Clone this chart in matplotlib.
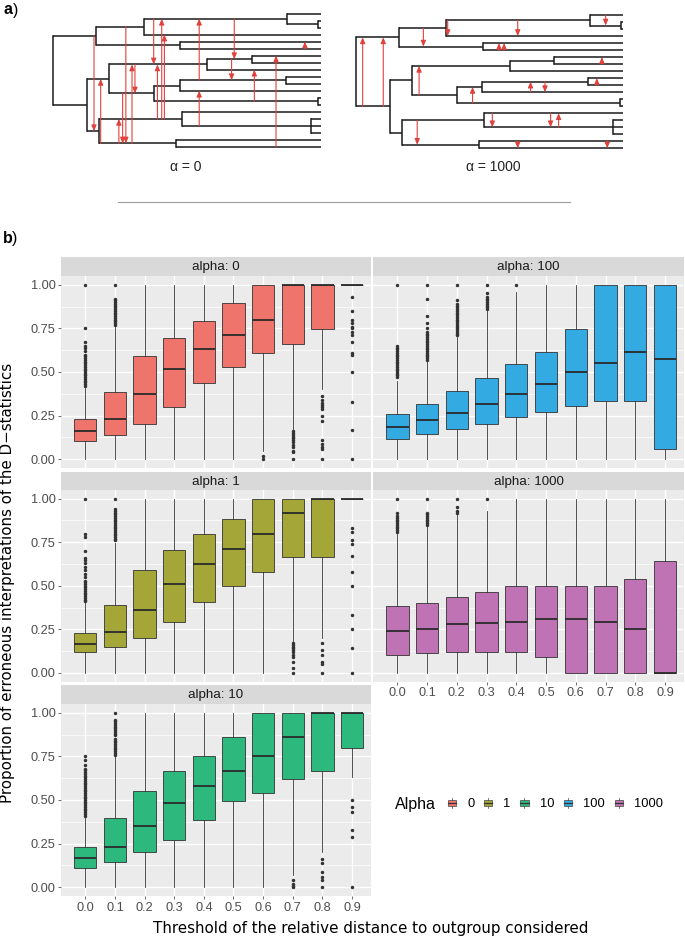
import numpy as np
import matplotlib.pyplot as plt
from matplotlib.patches import Rectangle, Patch
from matplotlib.lines import Line2D
from matplotlib.legend_handler import HandlerBase

# ---------------- data ----------------
thresholds = ['0.0', '0.1', '0.2', '0.3', '0.4', '0.5', '0.6', '0.7', '0.8', '0.9']
alpha_labels = ['0', '1', '10', '100', '1000']
alpha_colors = ['#EF746B', '#A4A638', '#2DB87D', '#33ABE2', '#BF73B5']

# alpha = 0
a0_q1 = [0.107, 0.139, 0.200, 0.297, 0.436, 0.531, 0.606, 0.663, 0.749, 1.0]
a0_med = [0.164, 0.229, 0.373, 0.520, 0.630, 0.714, 0.800, 1.0, 1.0, 1.0]
a0_q3 = [0.230, 0.387, 0.589, 0.697, 0.794, 0.897, 1.0, 1.0, 1.0, 1.0]
a0_lo = [0, 0, 0, 0, 0, 0, 0.05, 0.17, 0.40, 1.0]
a0_hi = [0.41, 0.76, 1, 1, 1, 1, 1, 1, 1, 1]
a0_out = {
    0: [0.42, 0.43, 0.44, 0.45, 0.46, 0.47, 0.48, 0.49, 0.50, 0.51, 0.52, 0.53, 0.54,
        0.55, 0.56, 0.57, 0.58, 0.59, 0.60, 0.62, 0.64, 0.65, 0.67, 0.75, 1.0],
    1: [0.77, 0.78, 0.79, 0.80, 0.81, 0.82, 0.83, 0.84, 0.85, 0.86, 0.87, 0.88, 0.89,
        0.90, 0.91, 0.92, 1.0],
    6: [0.02, 0.0],
    7: [0.16, 0.15, 0.14, 0.13, 0.12, 0.11, 0.10, 0.08, 0.07, 0.05, 0.04, 0.0],
    8: [0.36, 0.34, 0.32, 0.31, 0.30, 0.29, 0.25, 0.22, 0.11, 0.09, 0.07, 0.06, 0.0],
    9: [0.93, 0.85, 0.80, 0.78, 0.76, 0.75, 0.73, 0.71, 0.67, 0.61, 0.60, 0.50, 0.33, 0.17, 0.0],
}

# alpha = 1
a1_q1 = [0.117, 0.149, 0.199, 0.291, 0.405, 0.501, 0.579, 0.667, 0.667, 1.0]
a1_med = [0.168, 0.235, 0.363, 0.511, 0.625, 0.711, 0.795, 0.918, 1.0, 1.0]
a1_q3 = [0.231, 0.392, 0.589, 0.706, 0.797, 0.885, 1.0, 1.0, 1.0, 1.0]
a1_lo = [0, 0, 0, 0, 0, 0, 0, 0.175, 0.20, 1.0]
a1_hi = [0.40, 0.745, 1, 1, 1, 1, 1, 1, 1, 1]
a1_out = {
    0: [0.41, 0.42, 0.43, 0.44, 0.45, 0.46, 0.47, 0.48, 0.49, 0.50, 0.51, 0.52, 0.53,
        0.55, 0.57, 0.59, 0.61, 0.63, 0.65, 0.66, 0.70, 0.78, 0.80, 1.0],
    1: [0.76, 0.77, 0.78, 0.79, 0.80, 0.81, 0.82, 0.83, 0.84, 0.85, 0.86, 0.87, 0.88,
        0.89, 0.90, 0.91, 0.92, 0.93, 0.94, 1.0],
    7: [0.17, 0.16, 0.15, 0.14, 0.13, 0.12, 0.10, 0.09, 0.06, 0.03, 0.0],
    8: [0.17, 0.13, 0.10, 0.06, 0.05, 0.0],
    9: [0.83, 0.81, 0.76, 0.74, 0.67, 0.58, 0.50, 0.33, 0.25, 0.14, 0.0],
}

# alpha = 10
a10_q1 = [0.113, 0.147, 0.201, 0.273, 0.386, 0.495, 0.541, 0.621, 0.667, 0.80]
a10_med = [0.166, 0.233, 0.350, 0.480, 0.579, 0.669, 0.751, 0.859, 1.0, 1.0]
a10_q3 = [0.233, 0.396, 0.551, 0.667, 0.753, 0.859, 1.0, 1.0, 1.0, 1.0]
a10_lo = [0, 0, 0, 0, 0, 0, 0, 0.07, 0.20, 0.63]
a10_hi = [0.40, 0.75, 1, 1, 1, 1, 1, 1, 1, 1]
a10_out = {
    0: [0.41, 0.42, 0.43, 0.44, 0.45, 0.46, 0.47, 0.48, 0.49, 0.50, 0.51, 0.52, 0.53,
        0.54, 0.55, 0.56, 0.57, 0.58, 0.59, 0.60, 0.61, 0.62, 0.63, 0.64, 0.65, 0.66,
        0.67, 0.68, 0.70, 0.73, 0.75],
    1: [0.76, 0.77, 0.78, 0.79, 0.80, 0.81, 0.82, 0.83, 0.84, 0.85, 0.87, 0.88, 0.89,
        0.90, 0.91, 0.92, 0.93, 0.94, 0.95, 0.96, 1.0],
    7: [0.04, 0.02, 0.01, 0.0],
    8: [0.16, 0.14, 0.09, 0.06, 0.04, 0.0],
    9: [0.50, 0.46, 0.43, 0.33, 0.29, 0.0],
}

# alpha = 100
a100_q1 = [0.118, 0.147, 0.175, 0.202, 0.244, 0.270, 0.305, 0.331, 0.331, 0.057]
a100_med = [0.183, 0.223, 0.267, 0.314, 0.373, 0.429, 0.499, 0.554, 0.613, 0.577]
a100_q3 = [0.257, 0.314, 0.389, 0.467, 0.543, 0.615, 0.749, 1.0, 1.0, 1.0]
a100_lo = [0, 0, 0, 0, 0, 0, 0, 0, 0, 0]
a100_hi = [0.45, 0.56, 0.70, 0.85, 0.96, 1, 1, 1, 1, 1]
a100_out = {
    0: [0.47, 0.48, 0.49, 0.50, 0.51, 0.52, 0.53, 0.54, 0.55, 0.56, 0.57, 0.58, 0.59,
        0.60, 0.61, 0.62, 0.63, 0.64, 0.65, 1.0],
    1: [0.57, 0.58, 0.59, 0.60, 0.61, 0.62, 0.63, 0.64, 0.65, 0.66, 0.67, 0.68, 0.69,
        0.70, 0.71, 0.72, 0.73, 0.75, 0.78, 0.82, 0.92, 1.0],
    2: [0.71, 0.72, 0.73, 0.74, 0.75, 0.76, 0.77, 0.78, 0.79, 0.80, 0.81, 0.82, 0.83,
        0.84, 0.85, 0.86, 0.87, 0.88, 0.89, 0.91, 1.0],
    3: [0.86, 0.87, 0.88, 0.89, 0.90, 0.91, 0.92, 0.93, 0.95, 1.0],
    4: [1.0],
}

# alpha = 1000
a1000_q1 = [0.101, 0.113, 0.120, 0.117, 0.119, 0.090, 0.0, 0.0, 0.0, 0.0]
a1000_med = [0.239, 0.252, 0.279, 0.287, 0.294, 0.310, 0.310, 0.293, 0.252, 0.0]
a1000_q3 = [0.386, 0.403, 0.436, 0.465, 0.500, 0.500, 0.500, 0.500, 0.541, 0.641]
a1000_lo = [0, 0, 0, 0, 0, 0, 0, 0, 0, 0]
a1000_hi = [0.80, 0.84, 0.91, 0.93, 1, 1, 1, 1, 1, 1]
a1000_out = {
    0: [0.81, 0.82, 0.83, 0.84, 0.85, 0.86, 0.87, 0.88, 0.89, 0.90, 0.92, 1.0],
    1: [0.85, 0.86, 0.87, 0.88, 0.89, 0.90, 0.91, 0.92, 1.0],
    2: [0.92, 0.93, 0.95, 1.0],
    3: [1.0],
}

# species tree (shared by both panels): tips 0..19 top to bottom
tree = ('root', [
    ('A', [('A1', [('A11', [0, ('A111', [1, 2])]), 3]), ('A2', [4, 5])]),
    ('B', [('B1', [('B11', [('B111', [6, 7]), 8]),
                   ('B12', [('B121', [('B1211', [9, 10]), 11]), ('B122', [12, 13])])]),
           ('B2', [('B21', [14, ('B212', [15, 16, 17])]), ('B22', [18, 19])])]),
])
node_depth = {'root': 0.0, 'A': 0.159, 'A1': 0.337, 'A11': 0.874, 'A111': 0.990,
              'A2': 0.474, 'B': 0.127, 'B1': 0.209, 'B11': 0.575, 'B111': 0.741,
              'B12': 0.377, 'B121': 0.473, 'B1211': 0.869, 'B122': 0.988,
              'B2': 0.172, 'B21': 0.479, 'B212': 0.962, 'B22': 0.459}

# transfers: (time, donor branch y, recipient branch y)
hgt_alpha0 = [(0.152, 3.19, 16.75), (0.177, 18.5, 9.31), (0.245, 18.5, 15.0),
              (0.259, 11.375, 18.5), (0.271, 1.875, 18.5), (0.294, 18.5, 7.25),
              (0.305, 7.25, 11.375), (0.375, 0.75, 7.25), (0.389, 15.0, 7.25),
              (0.405, 15.0, 0.75), (0.415, 15.0, 3.0), (0.545, 9.5, 0.75),
              (0.545, 16.0, 11.0), (0.676, 0.75, 6.5), (0.666, 6.5, 9.5),
              (0.751, 12.5, 8.0), (0.832, 19.0, 6.0), (0.940, 5.0, 4.0)]
hgt_alpha1000 = [(0.025, 13.03, 3.19), (0.102, 13.03, 3.19), (0.252, 1.875, 4.5),
                 (0.343, 0.75, 3.0), (0.605, 0.75, 3.0), (0.535, 5.0, 4.0),
                 (0.554, 5.0, 4.0), (0.236, 11.375, 7.25), (0.920, 7.0, 6.0),
                 (0.436, 12.5, 10.25), (0.653, 11.0, 9.5), (0.707, 9.5, 11.0),
                 (0.901, 10.0, 9.0), (0.934, 0.0, 1.5), (0.510, 14.0, 16.0),
                 (0.728, 14.0, 16.0), (0.758, 16.0, 14.0), (0.229, 15.0, 18.5),
                 (0.605, 18.0, 19.0), (0.940, 18.0, 19.0)]

# ---------------- figure ----------------
W, H = 685, 939
fig = plt.figure(figsize=(W / 100, H / 100), dpi=100)
plt.rcParams['font.family'] = ['Liberation Sans', 'DejaVu Sans']


def px_axes(l, t, r, b):
    return fig.add_axes([l / W, 1 - b / H, (r - l) / W, (b - t) / H])


def draw_node(ax, node, parent_x):
    if isinstance(node, int):
        ax.plot([parent_x, 1.0], [node, node], color='#1a1a1a', lw=1.1, clip_on=False,
                solid_capstyle='butt')
        return node
    name, kids = node
    x = node_depth[name]
    ys = [draw_node(ax, k, x) for k in kids]
    ax.plot([x, x], [min(ys), max(ys)], color='#1a1a1a', lw=1.1, clip_on=False)
    y = (min(ys) + max(ys)) / 2
    if parent_x is not None:
        ax.plot([parent_x, x], [y, y], color='#1a1a1a', lw=1.1, clip_on=False,
                solid_capstyle='butt')
    return y


def draw_tree(box, hgts, label, label_x):
    ax = px_axes(*box)
    draw_node(ax, tree, None)
    for x, y0, y1 in hgts:
        ax.annotate('', xy=(x, y1), xytext=(x, y0), annotation_clip=False,
                    arrowprops=dict(arrowstyle='-|>,head_length=0.35,head_width=0.15',
                                    color='#E0413C', lw=0.8, shrinkA=0, shrinkB=0))
    ax.set_xlim(0, 1)
    ax.set_ylim(19, 0)
    ax.axis('off')
    fig.text(label_x / W, 1 - 167 / H, label, ha='center', va='center', fontsize=10,
             color='#222222')


draw_tree((53.3, 13.5, 321, 147), hgt_alpha0, 'α = 0', 186)
draw_tree((356, 15, 623.3, 148.3), hgt_alpha1000, 'α = 1000', 493)

fig.text(4 / W, 1 - 10 / H, 'a', fontsize=11.5, fontweight='bold', va='center')
fig.text(13 / W, 1 - 10 / H, ')', fontsize=11.5, va='center')
fig.text(3 / W, 1 - 239 / H, 'b', fontsize=11.5, fontweight='bold', va='center')
fig.text(12 / W, 1 - 239 / H, ')', fontsize=11.5, va='center')
fig.add_artist(Line2D([118 / W, 570 / W], [1 - 202 / H] * 2, color='#9a9a9a', lw=0.8))

# ---------------- boxplot facets ----------------
facets = [
    ('0', 0, 0, a0_q1, a0_med, a0_q3, a0_lo, a0_hi, a0_out),
    ('1', 1, 0, a1_q1, a1_med, a1_q3, a1_lo, a1_hi, a1_out),
    ('10', 2, 0, a10_q1, a10_med, a10_q3, a10_lo, a10_hi, a10_out),
    ('100', 0, 1, a100_q1, a100_med, a100_q3, a100_lo, a100_hi, a100_out),
    ('1000', 1, 1, a1000_q1, a1000_med, a1000_q3, a1000_lo, a1000_hi, a1000_out),
]
strip_top = [257, 472, 685]
panel_top = [276, 490, 704]
panel_bot = [468, 681.5, 896]
col_left = [61, 373]
col_right = [371, 684]

for lab, r, c, q1, med, q3, lo, hi, out in facets:
    color = alpha_colors[alpha_labels.index(lab)]
    sax = px_axes(col_left[c], strip_top[r], col_right[c], panel_top[r])
    sax.set_facecolor('#D9D9D9')
    sax.set_xticks([])
    sax.set_yticks([])
    for s in sax.spines.values():
        s.set_visible(False)
    sax.text(0.5, 0.47, 'alpha: ' + lab, ha='center', va='center', fontsize=9.6,
             color='#1A1A1A', transform=sax.transAxes)

    ax = px_axes(col_left[c], panel_top[r], col_right[c], panel_bot[r])
    ax.set_facecolor('#EBEBEB')
    for s in ax.spines.values():
        s.set_visible(False)
    stats = [dict(q1=q1[i], med=med[i], q3=q3[i], whislo=lo[i], whishi=hi[i],
                  fliers=out.get(i, [])) for i in range(len(thresholds))]
    ax.bxp(stats, positions=np.arange(len(thresholds)), widths=0.75, patch_artist=True,
           showcaps=False,
           boxprops=dict(facecolor=color, edgecolor='#333333', linewidth=0.6),
           medianprops=dict(color='#2a2a2a', linewidth=1.3),
           whiskerprops=dict(color='#333333', linewidth=0.6),
           flierprops=dict(marker='o', markersize=2.5, markerfacecolor='#333333',
                           markeredgecolor='none'))
    ax.set_xlim(-0.82, 9.64)
    ax.set_ylim(-0.05, 1.05)
    ax.set_yticks([0, 0.25, 0.5, 0.75, 1.0])
    ax.set_yticks([0.125, 0.375, 0.625, 0.875], minor=True)
    ax.set_xticks(np.arange(len(thresholds)))
    ax.set_xticklabels(thresholds)
    ax.set_yticklabels(['0.00', '0.25', '0.50', '0.75', '1.00'])
    ax.set_axisbelow(True)
    ax.grid(which='major', color='white', lw=1.0)
    ax.grid(which='minor', axis='y', color='white', lw=0.5)
    ax.tick_params(which='both', length=2.5, width=0.5, color='#333333', labelsize=9.2,
                   labelcolor='#4D4D4D', pad=1.5)
    ax.tick_params(which='minor', length=0)
    bottom = (r == 2) or (c == 1 and r == 1)
    ax.tick_params(axis='x', bottom=bottom, labelbottom=bottom)
    ax.tick_params(axis='y', left=(c == 0), labelleft=(c == 0))

fig.text(8 / W, 1 - 583 / H, 'Proportion of erroneous interpretations of the D\u2212statistics',
         rotation=90, ha='center', va='center', fontsize=10.9, family='DejaVu Sans')
fig.text(371 / W, 1 - 928 / H, 'Threshold of the relative distance to outgroup considered',
         ha='center', va='center', fontsize=10.9, family='DejaVu Sans')


# ---------------- legend ----------------
class BoxKey(HandlerBase):
    def create_artists(self, legend, orig_handle, xdescent, ydescent, width, height,
                       fontsize, trans):
        x0, y0 = -xdescent, -ydescent
        bw = width * 0.85
        bx = x0 + (width - bw) / 2
        cx = x0 + width / 2
        box = Rectangle((bx, y0 + height * 0.22), bw, height * 0.56,
                        facecolor=orig_handle.get_facecolor(), edgecolor='#444444',
                        lw=0.5, transform=trans)
        med = Line2D([bx, bx + bw], [y0 + height / 2] * 2, color='#333333', lw=0.9,
                     transform=trans)
        wl = Line2D([cx, cx], [y0, y0 + height * 0.22], color='#444444', lw=0.5,
                    transform=trans)
        wh = Line2D([cx, cx], [y0 + height * 0.78, y0 + height], color='#444444', lw=0.5,
                    transform=trans)
        return [box, med, wl, wh]


handles = [Patch(facecolor=c) for c in alpha_colors]
fig.text(395 / W, 1 - 804 / H, 'Alpha', ha='left', va='center', fontsize=11.5)
fig.legend(handles, alpha_labels, handler_map={Patch: BoxKey()}, ncol=5,
           loc='center left', bbox_to_anchor=(447 / W, 1 - 804 / H), frameon=False,
           fontsize=9.3, handlelength=0.75, handleheight=0.9, handletextpad=0.8,
           columnspacing=0.7, borderaxespad=0, borderpad=0)

fig.savefig('out.png', dpi=100)
